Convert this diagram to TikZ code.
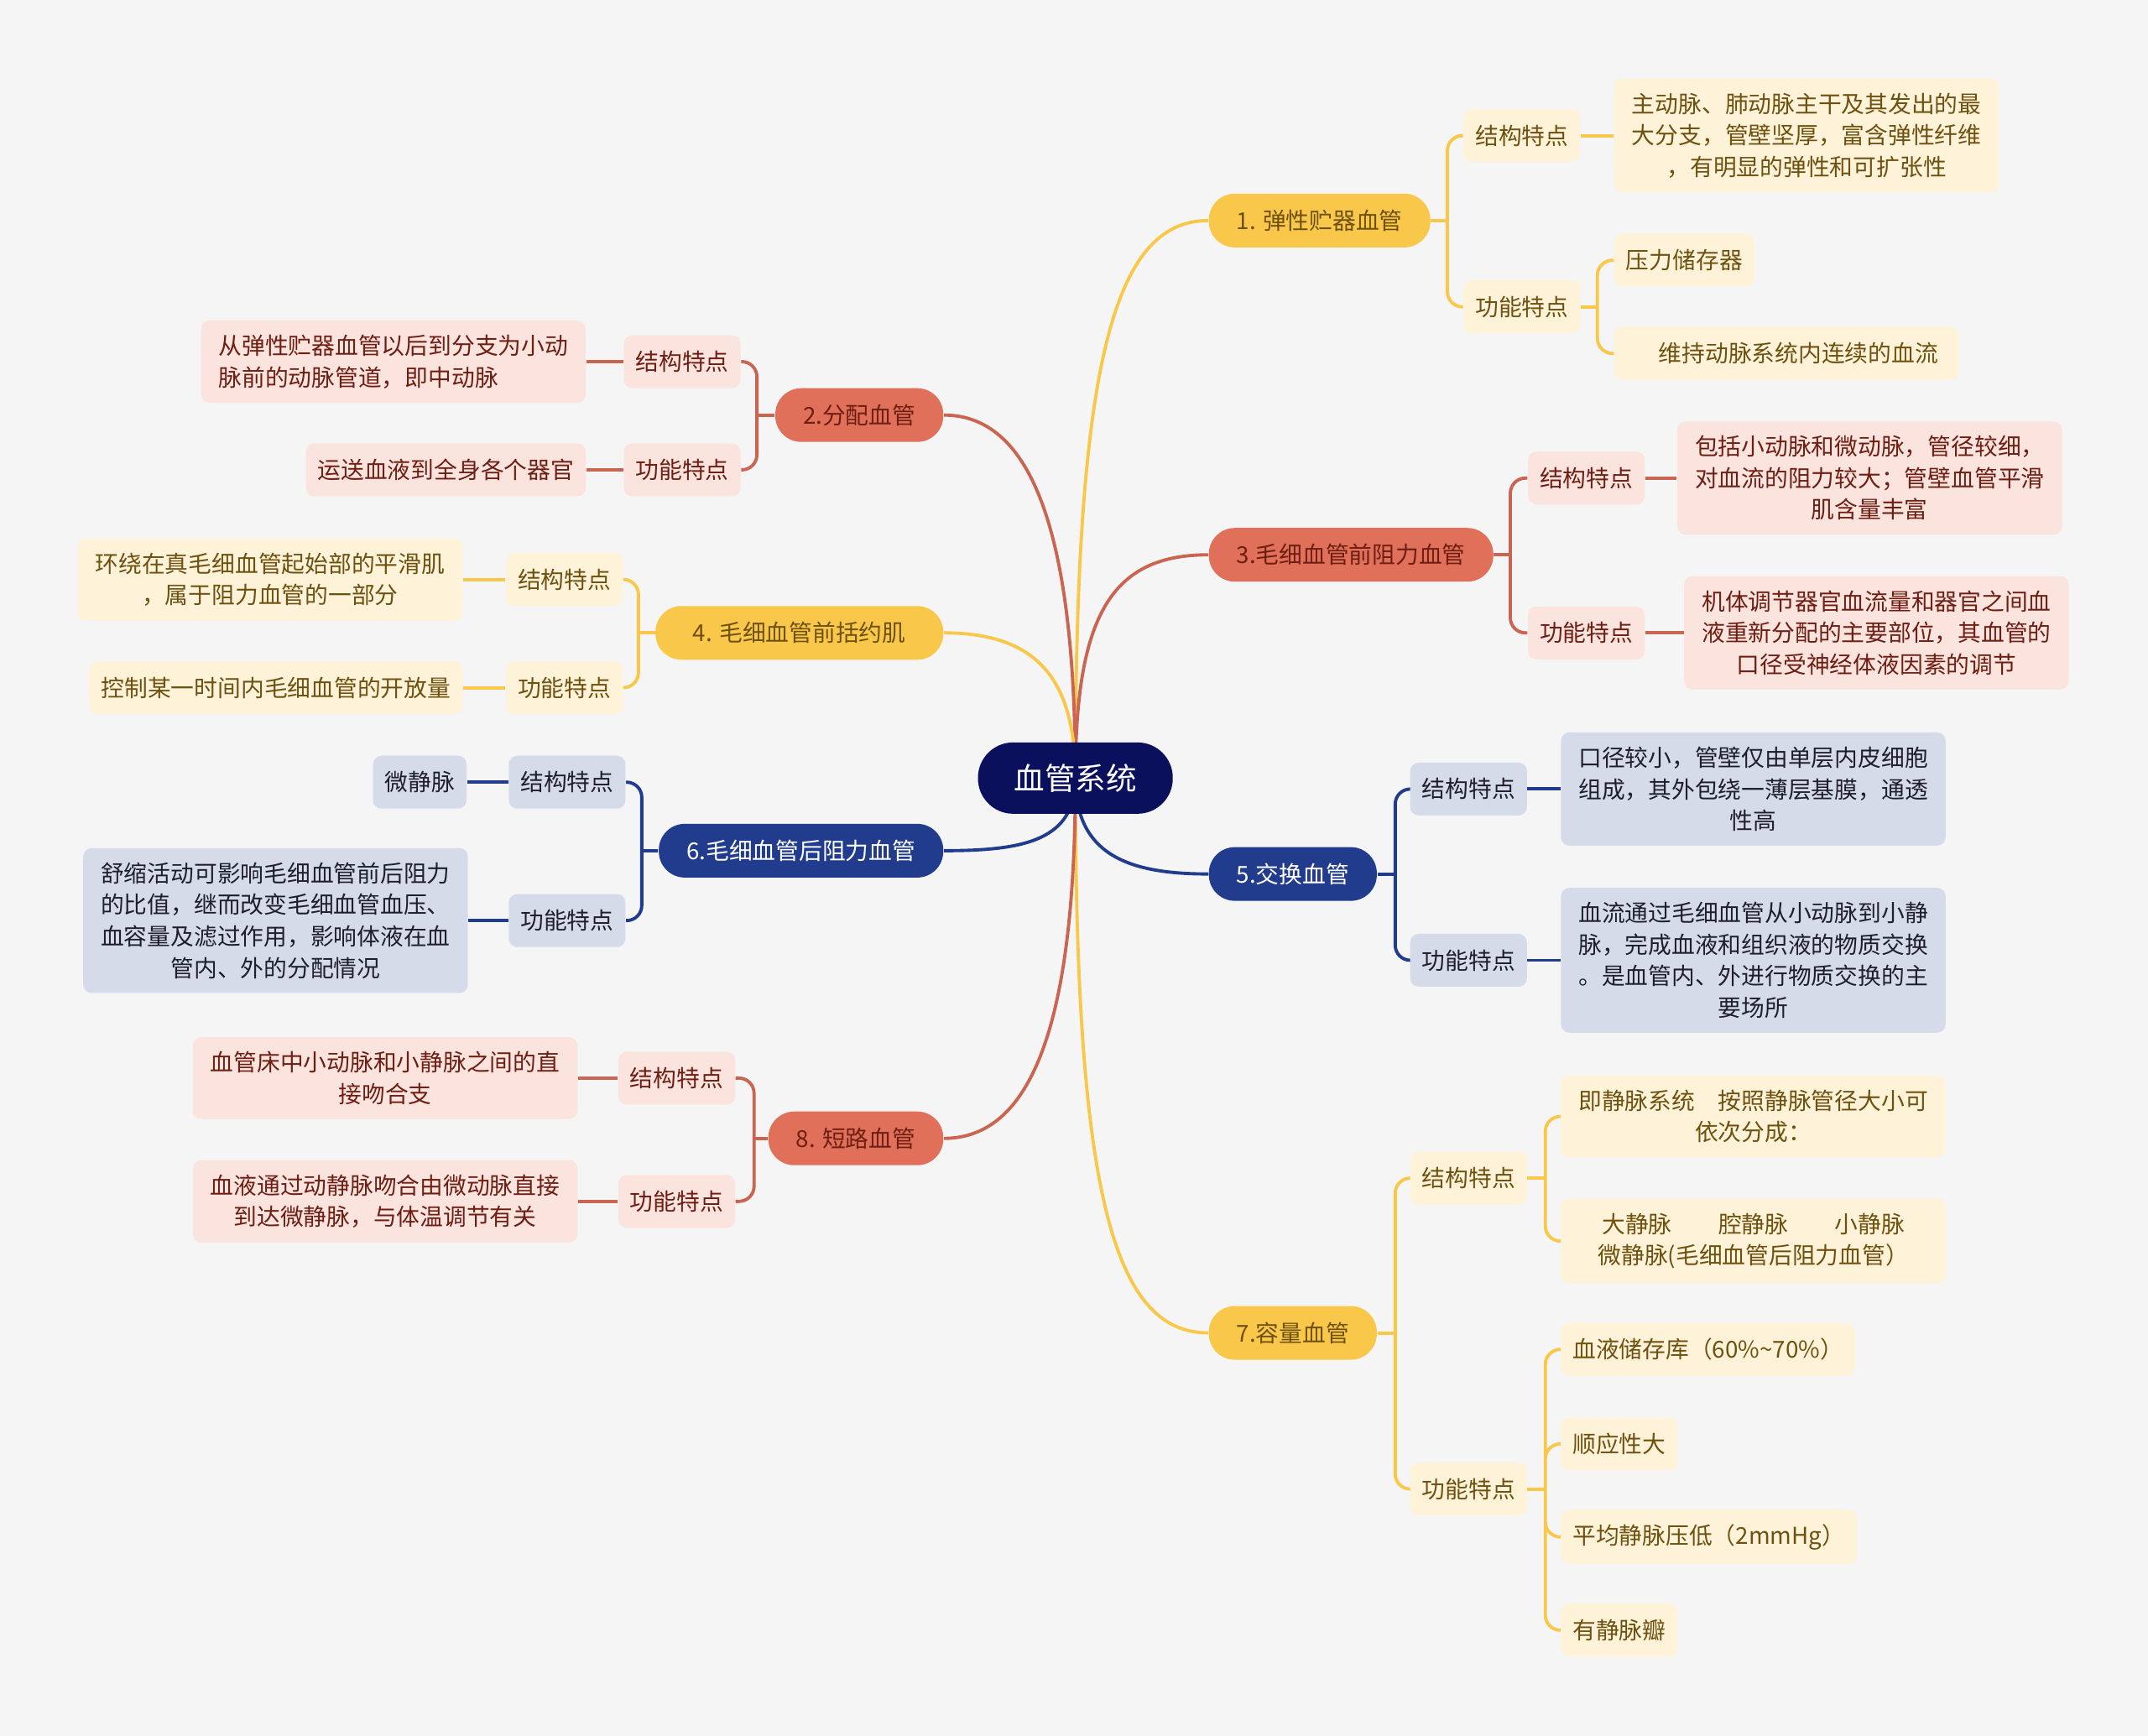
\documentclass[tikz,border=0pt]{standalone}
\usepackage{fontspec}
\setmainfont{Noto Sans CJK SC}
\usetikzlibrary{backgrounds}
\definecolor{bgc}{HTML}{F5F5F5}
\definecolor{rootc}{HTML}{0B105C}
\definecolor{yelc}{HTML}{F9C84B}
\definecolor{yellt}{HTML}{FEF3D8}
\definecolor{yeltx}{HTML}{6E5110}
\definecolor{redc}{HTML}{E0705A}
\definecolor{redlt}{HTML}{FBE3DE}
\definecolor{redtx}{HTML}{6E1E12}
\definecolor{bluc}{HTML}{213C8C}
\definecolor{blult}{HTML}{D6DBEA}
\definecolor{blutx}{HTML}{1E1E2E}
\newcommand\mmfont{\fontsize{7.9pt}{10.7pt}\selectfont}
\newcommand\mmroot{\fontsize{10.4pt}{12pt}\selectfont}
\begin{document}
\begin{tikzpicture}[x=0.016327cm,y=-0.016327cm,line join=round,line cap=round,font=\mmfont,
	rootbox/.style={fill=rootc,text=white,rounded corners=0.42cm,inner xsep=0.43cm,minimum height=0.85cm,font=\mmroot},
	bigbox/.style={rounded corners=0.31cm,inner xsep=0.33cm,minimum height=0.64cm},
	subbox/.style={rounded corners=0.1cm,inner xsep=0.14cm,inner ysep=0.17cm,minimum height=0.63cm,align=center},
	leaf/.style={inner xsep=0.21cm},
	ybig/.style={bigbox,fill=yelc,text=yeltx},
	rbig/.style={bigbox,fill=redc,text=redtx},
	bbig/.style={bigbox,fill=bluc,text=white},
	ysub/.style={subbox,fill=yellt,text=yeltx},
	rsub/.style={subbox,fill=redlt,text=redtx},
	bsub/.style={subbox,fill=blult,text=blutx},
	yline/.style={draw=yelc,line width=1.1pt},
	rline/.style={draw=redc!90!black,line width=1.1pt},
	bline/.style={draw=bluc,line width=1.1pt}]
	\useasboundingbox (0,0) rectangle (1568,1267);
	% goc
	\node[rootbox] (root) at (785,568) {血管系统};
	% nhanh 1
	\node[ybig,anchor=west] (n1) at (882,161) {1. 弹性贮器血管};
	\node[ysub,anchor=west] (s11) at (1068,99) {结构特点};
	\node[ysub,anchor=west] (s12) at (1068,224) {功能特点};
	\node[ysub,leaf,anchor=west] (l11) at (1178,99) {主动脉、肺动脉主干及其发出的最\\大分支，管壁坚厚，富含弹性纤维\\，有明显的弹性和可扩张性};
	\node[ysub,anchor=west] (l12a) at (1178,190) {压力储存器};
	\node[ysub,anchor=west,minimum width=4.11cm] (l12b) at (1178,258) {　维持动脉系统内连续的血流};
	% nhanh 2
	\node[rbig,anchor=east] (n2) at (689,303) {2.分配血管};
	\node[rsub,anchor=east] (s21) at (541,264) {结构特点};
	\node[rsub,anchor=east] (s22) at (541,343) {功能特点};
	\node[rsub,leaf,align=left,anchor=east] (l21) at (428,264) {从弹性贮器血管以后到分支为小动\\脉前的动脉管道，即中动脉};
	\node[rsub,anchor=east] (l22) at (428,343) {运送血液到全身各个器官};
	% nhanh 3
	\node[rbig,anchor=west] (n3) at (882,405) {3.毛细血管前阻力血管};
	\node[rsub,anchor=west] (s31) at (1115,349) {结构特点};
	\node[rsub,anchor=west] (s32) at (1115,462) {功能特点};
	\node[rsub,leaf,anchor=west] (l31) at (1224,349) {包括小动脉和微动脉，管径较细，\\对血流的阻力较大；管壁血管平滑\\肌含量丰富};
	\node[rsub,leaf,anchor=west] (l32) at (1229,462) {机体调节器官血流量和器官之间血\\液重新分配的主要部位，其血管的\\口径受神经体液因素的调节};
	% nhanh 4
	\node[ybig,anchor=east,minimum width=3.43cm] (n4) at (689,462) {4. 毛细血管前括约肌};
	\node[ysub,anchor=east] (s41) at (455,423) {结构特点};
	\node[ysub,anchor=east] (s42) at (455,502) {功能特点};
	\node[ysub,leaf,anchor=east] (l41) at (338,423) {环绕在真毛细血管起始部的平滑肌\\，属于阻力血管的一部分};
	\node[ysub,anchor=east] (l42) at (338,502) {控制某一时间内毛细血管的开放量};
	% nhanh 5
	\node[bbig,anchor=west] (n5) at (882,638) {5.交换血管};
	\node[bsub,anchor=west] (s51) at (1029,576) {结构特点};
	\node[bsub,anchor=west] (s52) at (1029,701) {功能特点};
	\node[bsub,leaf,anchor=west] (l51) at (1139,576) {口径较小，管壁仅由单层内皮细胞\\组成，其外包绕一薄层基膜，通透\\性高};
	\node[bsub,leaf,anchor=west] (l52) at (1139,701) {血流通过毛细血管从小动脉到小静\\脉，完成血液和组织液的物质交换\\。是血管内、外进行物质交换的主\\要场所};
	% nhanh 6
	\node[bbig,anchor=east] (n6) at (689,621) {6.毛细血管后阻力血管};
	\node[bsub,anchor=east] (s61) at (457,571) {结构特点};
	\node[bsub,anchor=east] (s62) at (457,672) {功能特点};
	\node[bsub,anchor=east] (l61) at (341,571) {微静脉};
	\node[bsub,leaf,anchor=east] (l62) at (342,672) {舒缩活动可影响毛细血管前后阻力\\的比值，继而改变毛细血管血压、\\血容量及滤过作用，影响体液在血\\管内、外的分配情况};
	% nhanh 7
	\node[ybig,anchor=west] (n7) at (882,973) {7.容量血管};
	\node[ysub,anchor=west] (s71) at (1029,860) {结构特点};
	\node[ysub,anchor=west] (s72) at (1029,1087) {功能特点};
	\node[ysub,leaf,anchor=west] (l71a) at (1139,815) {即静脉系统　按照静脉管径大小可\\依次分成：};
	\node[ysub,leaf,anchor=west,minimum width=4.59cm] (l71b) at (1139,906) {大静脉　　腔静脉　　小静脉\\微静脉(毛细血管后阻力血管）};
	\node[ysub,anchor=west] (l72a) at (1139,985) {血液储存库（60\%\textasciitilde70\%）};
	\node[ysub,anchor=west] (l72b) at (1139,1054) {顺应性大};
	\node[ysub,anchor=west] (l72c) at (1139,1122) {平均静脉压低（2mmHg）};
	\node[ysub,anchor=west] (l72d) at (1139,1190) {有静脉瓣};
	% nhanh 8
	\node[rbig,anchor=east] (n8) at (689,831) {8. 短路血管};
	\node[rsub,anchor=east] (s81) at (537,787) {结构特点};
	\node[rsub,anchor=east] (s82) at (537,877) {功能特点};
	\node[rsub,leaf,anchor=east] (l81) at (422,787) {血管床中小动脉和小静脉之间的直\\接吻合支};
	\node[rsub,leaf,anchor=east] (l82) at (422,877) {血液通过动静脉吻合由微动脉直接\\到达微静脉，与体温调节有关};
	\begin{scope}[on background layer]
		\fill[bgc] (0,0) rectangle (1568,1267);
		% goc -> nhanh
		\draw[yline] (root.center) .. controls +(0,-300) and +(-70,0) .. (n1.west);
		\draw[rline] (root.center) .. controls +(0,-190) and +(60,0) .. (n2.east);
		\draw[rline] (root.center) .. controls +(0,-120) and +(-70,0) .. (n3.west);
		\draw[yline] (root.center) .. controls +(0,-70) and +(70,0) .. (n4.east);
		\draw[bline] (root.center) .. controls +(0,55) and +(-60,0) .. (n5.west);
		\draw[bline] (root.center) .. controls +(0,45) and +(60,0) .. (n6.east);
		\draw[yline] (root.center) .. controls +(0,300) and +(-70,0) .. (n7.west);
		\draw[rline] (root.center) .. controls +(0,190) and +(60,0) .. (n8.east);
		% ngoac ben phai
		\foreach \p/\a/\b/\c/\d in {n1/s11/s12/yline/12,n3/s31/s32/rline/12,n5/s51/s52/bline/13,n7/s71/s72/yline/13,s12/l12a/l12b/yline/12,s71/l71a/l71b/yline/13}{
			\draw[\c] (\p.east) -- ++(\d,0) coordinate (j);
			\draw[\c,rounded corners=0.18cm] (j) |- (\a.west) (j) |- (\b.west);
		}
		% ngoac ben trai
		\foreach \p/\a/\b/\c/\d in {n2/s21/s22/rline/13,n4/s41/s42/yline/12,n6/s61/s62/bline/12,n8/s81/s82/rline/10}{
			\draw[\c] (\p.west) -- ++(-\d,0) coordinate (j);
			\draw[\c,rounded corners=0.18cm] (j) |- (\a.east) (j) |- (\b.east);
		}
		\draw[yline] (s72.east) -- ++(13,0) coordinate (j);
		\draw[yline,rounded corners=0.18cm] (j) |- (l72a.west) (j) |- (l72b.west) (j) |- (l72c.west) (j) |- (l72d.west);
		% noi la
		\draw[yline] (s11.east) -- (l11.west);
		\draw[rline] (s31.east) -- (l31.west) (s32.east) -- (l32.west);
		\draw[bline] (s51.east) -- (l51.west) (s52.east) -- (l52.west);
		\draw[rline] (s21.west) -- (l21.east) (s22.west) -- (l22.east);
		\draw[yline] (s41.west) -- (l41.east) (s42.west) -- (l42.east);
		\draw[bline] (s61.west) -- (l61.east) (s62.west) -- (l62.east);
		\draw[rline] (s81.west) -- (l81.east) (s82.west) -- (l82.east);
	\end{scope}
\end{tikzpicture}
\end{document}
